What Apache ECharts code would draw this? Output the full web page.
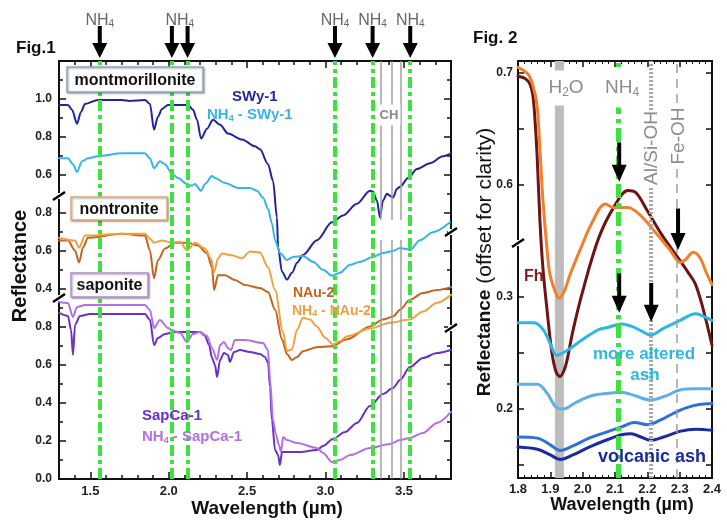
<!DOCTYPE html>
<html><head><meta charset="utf-8">
<script src="https://cdn.jsdelivr.net/npm/echarts@6/dist/echarts.min.js"></script>
<style>html,body{margin:0;padding:0;background:#fff}#c{width:727px;height:523px}</style>
</head><body><div id="c"></div>
<script>
// ---------------- Fig.1 data ----------------
const fig1XTicks = [1.5, 2.0, 2.5, 3.0, 3.5];
const montTicks = [0.6, 0.8, 1.0];
const nontTicks = [0.4, 0.6, 0.8];
const sapTicks = [0.0, 0.2, 0.4, 0.6, 0.8];
const nh4Bands = [1.56, 2.02, 2.12, 3.06, 3.30, 3.54];
const nh4LabelX = [1.56, 2.07, 3.06, 3.30, 3.54];
const chLines = [3.35, 3.42, 3.48];
const chGap = [0.258, 0.363];

const swy1 = [[1.30,0.969],[1.357,0.969],[1.383,0.943],[1.415,0.870],[1.44,0.932],[1.466,0.974],[1.549,0.995],[1.702,0.995],[1.75,0.99],[1.848,0.995],[1.88,0.974],[1.906,0.839],[1.931,0.906],[1.957,0.948],[1.995,0.969],[2.123,0.969],[2.155,0.943],[2.18,0.891],[2.206,0.792],[2.244,0.844],[2.282,0.891],[2.327,0.865],[2.378,0.818],[2.467,0.787],[2.55,0.751],[2.582,0.735],[2.633,0.657],[2.665,0.569],[2.69,0.377],[2.697,0.221],[2.722,0.091],[2.754,0.049],[2.786,0.086],[2.818,0.138],[2.856,0.179],[2.945,0.257],[3.041,0.351],[3.111,0.387],[3.20,0.449],[3.283,0.517],[3.303,0.512],[3.328,0.465],[3.347,0.377],[3.366,0.465],[3.392,0.501],[3.411,0.491],[3.43,0.481],[3.456,0.527],[3.475,0.538],[3.526,0.584],[3.583,0.631],[3.666,0.662],[3.749,0.699],[3.80,0.714]];
const nh4Swy1 = [[1.30,0.688],[1.357,0.688],[1.389,0.657],[1.415,0.616],[1.447,0.673],[1.485,0.688],[1.549,0.699],[1.702,0.714],[1.848,0.714],[1.88,0.688],[1.906,0.636],[1.944,0.673],[1.976,0.657],[2.021,0.605],[2.059,0.584],[2.116,0.553],[2.148,0.543],[2.167,0.553],[2.206,0.517],[2.231,0.553],[2.276,0.595],[2.295,0.584],[2.359,0.558],[2.442,0.532],[2.518,0.532],[2.563,0.517],[2.601,0.481],[2.633,0.423],[2.658,0.345],[2.678,0.257],[2.709,0.190],[2.754,0.153],[2.792,0.169],[2.856,0.174],[2.92,0.143],[2.984,0.101],[3.041,0.070],[3.092,0.086],[3.156,0.127],[3.22,0.143],[3.303,0.169],[3.366,0.190],[3.43,0.200],[3.475,0.216],[3.519,0.210],[3.538,0.205],[3.602,0.257],[3.685,0.299],[3.794,0.351]];
const nau2 = [[1.30,0.655],[1.357,0.655],[1.402,0.603],[1.428,0.540],[1.453,0.618],[1.485,0.670],[1.702,0.691],[1.848,0.681],[1.88,0.603],[1.906,0.457],[1.931,0.551],[1.976,0.613],[2.04,0.644],[2.123,0.644],[2.186,0.629],[2.244,0.587],[2.276,0.514],[2.289,0.395],[2.314,0.473],[2.359,0.473],[2.422,0.447],[2.486,0.421],[2.582,0.405],[2.633,0.384],[2.678,0.291],[2.722,0.135],[2.754,0.057],[2.786,0.026],[2.818,0.042],[2.856,0.073],[2.945,0.094],[3.041,0.099],[3.137,0.135],[3.283,0.203],[3.366,0.239],[3.43,0.255],[3.475,0.291],[3.538,0.343],[3.621,0.379],[3.711,0.395],[3.80,0.410]];
const nh4Nau2 = [[1.30,0.670],[1.402,0.655],[1.428,0.618],[1.466,0.681],[1.702,0.691],[1.848,0.691],[1.88,0.665],[1.906,0.644],[1.957,0.655],[2.021,0.644],[2.072,0.649],[2.116,0.603],[2.167,0.644],[2.231,0.613],[2.269,0.561],[2.289,0.488],[2.314,0.561],[2.34,0.587],[2.403,0.577],[2.467,0.561],[2.518,0.597],[2.582,0.592],[2.633,0.514],[2.678,0.395],[2.729,0.171],[2.754,0.073],[2.786,0.083],[2.818,0.187],[2.856,0.249],[2.90,0.239],[2.945,0.203],[2.996,0.145],[3.047,0.109],[3.092,0.125],[3.137,0.151],[3.283,0.192],[3.411,0.223],[3.538,0.239],[3.621,0.281],[3.711,0.327],[3.80,0.369]];
const sapca1 = [[1.30,0.874],[1.357,0.858],[1.377,0.784],[1.389,0.653],[1.402,0.811],[1.434,0.858],[1.498,0.868],[1.848,0.868],[1.88,0.837],[1.906,0.705],[1.931,0.742],[1.976,0.763],[2.04,0.774],[2.199,0.774],[2.231,0.753],[2.257,0.705],[2.276,0.637],[2.295,0.600],[2.308,0.537],[2.327,0.626],[2.352,0.663],[2.378,0.653],[2.39,0.616],[2.416,0.668],[2.454,0.679],[2.518,0.668],[2.582,0.658],[2.614,0.642],[2.633,0.611],[2.646,0.484],[2.658,0.311],[2.678,0.153],[2.697,0.126],[2.709,0.074],[2.722,0.142],[2.741,0.142],[2.837,0.142],[2.945,0.153],[2.984,0.174],[3.047,0.211],[3.124,0.247],[3.20,0.295],[3.283,0.384],[3.366,0.447],[3.43,0.479],[3.475,0.521],[3.538,0.589],[3.621,0.637],[3.711,0.663],[3.80,0.679]];
const nh4Sapca1 = [[1.30,0.932],[1.357,0.926],[1.389,0.853],[1.415,0.905],[1.466,0.916],[1.848,0.916],[1.88,0.889],[1.906,0.795],[1.944,0.837],[1.995,0.795],[2.021,0.784],[2.072,0.768],[2.116,0.721],[2.155,0.763],[2.199,0.774],[2.244,0.753],[2.276,0.689],[2.308,0.626],[2.327,0.705],[2.352,0.721],[2.378,0.689],[2.397,0.679],[2.422,0.732],[2.486,0.732],[2.601,0.716],[2.633,0.679],[2.646,0.521],[2.665,0.311],[2.684,0.232],[2.703,0.179],[2.716,0.142],[2.729,0.221],[2.754,0.205],[2.818,0.189],[2.945,0.163],[2.984,0.137],[3.041,0.089],[3.092,0.100],[3.156,0.126],[3.283,0.163],[3.411,0.184],[3.475,0.205],[3.538,0.216],[3.621,0.242],[3.711,0.295],[3.80,0.353]];

// ---------------- Fig.2 data ----------------
const fig2YLowerLabels = [0.2, 0.3];
const fig2YUpperLabels = [0.6, 0.7];
const fig2YLowerTicks = [0.15, 0.2, 0.25, 0.3];
const fig2YUpperTicks = [0.6, 0.65, 0.7];
const h2oBand = [1.914, 1.942];
const nh4Line2 = 2.113;
const alSiOH = 2.212;
const feOH = 2.295;
const arrowX = [2.113, 2.295, 2.113, 2.212];
const arrowAxis = [5, 5, 4, 4];
const arrowFrom = [0.638, 0.579, 0.321, 0.3125];
const arrowTo = [0.603, 0.542, 0.286, 0.278];

const fh = [[1.80,0.697],[1.822,0.695],[1.837,0.690],[1.846,0.680],[1.853,0.656],[1.859,0.627],[1.868,0.567],[1.877,0.526],[1.89,0.488],[1.905,0.450],[1.918,0.433],[1.93,0.429],[1.943,0.435],[1.952,0.444],[1.97,0.470],[2.00,0.505],[2.05,0.553],[2.10,0.582],[2.14,0.595],[2.165,0.593],[2.20,0.577],[2.246,0.555],[2.295,0.535],[2.326,0.522],[2.348,0.512],[2.37,0.492],[2.40,0.457]];
const orange = [[1.80,0.705],[1.831,0.699],[1.846,0.689],[1.859,0.671],[1.868,0.631],[1.877,0.587],[1.89,0.542],[1.899,0.520],[1.915,0.505],[1.927,0.499],[1.943,0.505],[1.961,0.520],[1.992,0.542],[2.03,0.567],[2.07,0.583],[2.095,0.580],[2.12,0.580],[2.14,0.580],[2.178,0.573],[2.224,0.558],[2.27,0.542],[2.302,0.531],[2.317,0.533],[2.342,0.540],[2.363,0.535],[2.382,0.522],[2.40,0.511]];
const alteredAsh = [[1.80,0.277],[1.85,0.277],[1.88,0.270],[1.90,0.258],[1.92,0.248],[1.95,0.252],[2.00,0.262],[2.05,0.271],[2.08,0.273],[2.12,0.276],[2.15,0.274],[2.18,0.270],[2.21,0.266],[2.25,0.272],[2.30,0.279],[2.35,0.285],[2.38,0.282],[2.40,0.279]];
const ash2 = [[1.80,0.222],[1.86,0.222],[1.89,0.214],[1.92,0.201],[1.94,0.200],[1.98,0.206],[2.03,0.212],[2.08,0.214],[2.12,0.215],[2.16,0.212],[2.21,0.208],[2.26,0.212],[2.30,0.217],[2.35,0.218],[2.40,0.218]];
const ash3 = [[1.80,0.175],[1.86,0.174],[1.90,0.168],[1.93,0.163],[1.97,0.167],[2.02,0.174],[2.08,0.180],[2.12,0.184],[2.16,0.188],[2.20,0.186],[2.24,0.190],[2.28,0.196],[2.32,0.201],[2.36,0.204],[2.40,0.205]];
const volcanicAsh = [[1.80,0.166],[1.86,0.164],[1.90,0.159],[1.93,0.155],[1.97,0.159],[2.02,0.166],[2.08,0.173],[2.12,0.177],[2.15,0.178],[2.18,0.175],[2.21,0.172],[2.25,0.175],[2.30,0.180],[2.35,0.182],[2.40,0.181]];

// ---------------- chart ----------------
const FONT = '"Liberation Sans", Arial, sans-serif';
const chart = echarts.init(document.getElementById('c'));
const tickStyle = {color:'#111', width:1.5};
const fmt1 = v => (+v).toFixed(1);
const fig1XMinor = [];
for (let k = 13; k <= 38; k++) { if (k % 5 !== 0) fig1XMinor.push(k / 10); }
const labelStyle = {fontSize:12, fontWeight:'bold', color:'#222', fontFamily:FONT, formatter:fmt1};

function ax(grid, pos, min, max, extra) {
  return Object.assign({gridIndex:grid, type:'value', position:pos, min:min, max:max,
    axisLine:{show:false, onZero:false}, splitLine:{show:false}}, extra);
}

const xAxes = [
  ax(0,'bottom',1.3,3.8,{axisTick:{inside:true,length:7,lineStyle:tickStyle,customValues:fig1XTicks},
      axisLabel:Object.assign({}, labelStyle, {fontSize:13, margin:6, customValues:fig1XTicks})}),
  ax(0,'bottom',1.3,3.8,{axisTick:{inside:true,length:4,lineStyle:tickStyle,customValues:fig1XMinor},axisLabel:{show:false}}),
  ax(0,'top',1.3,3.8,{axisTick:{inside:true,length:7,lineStyle:tickStyle,customValues:fig1XTicks},axisLabel:{show:false}}),
  ax(0,'top',1.3,3.8,{axisTick:{inside:true,length:4,lineStyle:tickStyle,customValues:fig1XMinor},axisLabel:{show:false}}),
  ax(1,'bottom',1.8,2.4,{interval:0.1,axisTick:{inside:true,length:6,lineStyle:tickStyle},
      minorTick:{show:true,splitNumber:5,length:3,lineStyle:{color:'#111',width:1}},
      axisLabel:Object.assign({}, labelStyle, {fontSize:13, margin:5})}),
  ax(1,'top',1.8,2.4,{interval:0.1,axisTick:{inside:true,length:6,lineStyle:tickStyle},
      minorTick:{show:true,splitNumber:5,length:3,lineStyle:{color:'#111',width:1}},axisLabel:{show:false}})
];
const yAxes = [
  ax(0,'left',-1.0,1.2,{interval:0.2,axisTick:{inside:true,length:7,lineStyle:tickStyle},
      minorTick:{show:true,splitNumber:2,length:4,lineStyle:tickStyle},
      axisLabel:Object.assign({}, labelStyle, {margin:7, customValues:montTicks})}),
  ax(0,'left',-0.6,1.6,{axisTick:{show:false},axisLabel:Object.assign({}, labelStyle, {margin:7, customValues:nontTicks})}),
  ax(0,'left',0,2.2,{axisTick:{show:false},axisLabel:Object.assign({}, labelStyle, {margin:7, customValues:sapTicks})}),
  ax(0,'right',-1.0,1.2,{interval:0.2,axisTick:{inside:true,length:7,lineStyle:tickStyle},
      minorTick:{show:true,splitNumber:2,length:4,lineStyle:tickStyle},axisLabel:{show:false}}),
  ax(1,'left',0.1384,0.5107,{axisTick:{inside:true,length:6,lineStyle:tickStyle,customValues:fig2YLowerTicks},
      axisLabel:Object.assign({}, labelStyle, {margin:5, customValues:fig2YLowerLabels})}),
  ax(1,'left',0.3384,0.7107,{axisTick:{inside:true,length:6,lineStyle:tickStyle,customValues:fig2YUpperTicks},
      axisLabel:Object.assign({}, labelStyle, {margin:5, customValues:fig2YUpperLabels})}),
  ax(1,'right',0.1384,0.5107,{axisTick:{inside:true,length:6,lineStyle:tickStyle,customValues:fig2YLowerTicks},axisLabel:{show:false}}),
  ax(1,'right',0.3384,0.7107,{axisTick:{inside:true,length:6,lineStyle:tickStyle,customValues:fig2YUpperTicks},axisLabel:{show:false}})
];

function curve(name, data, xi, yi, color, width, smooth, mono) {
  const s = {name:name, type:'line', xAxisIndex:xi, yAxisIndex:yi, data:data, symbol:'none', showSymbol:false,
    smooth:smooth, z:3, silent:true, lineStyle:{color:color, width:width, join:'round', cap:'round'}};
  if (mono) s.smoothMonotone = 'x';
  return s;
}

const chMarks = [];
chLines.forEach(v => {
  chMarks.push([{coord:[v,1.199]},{coord:[v,chGap[1]]}]);
  chMarks.push([{coord:[v,chGap[0]]},{coord:[v,-0.999]}]);
});

const series = [
  {type:'line', xAxisIndex:0, yAxisIndex:0, data:[], z:1, silent:true,
   markLine:{silent:true, symbol:['none','none'], label:{show:false}, animation:false,
     lineStyle:{color:'#3ee23e', width:4, type:[11,4,4,4]}, data:nh4Bands.map(v=>({xAxis:v}))}},
  {type:'line', xAxisIndex:0, yAxisIndex:0, data:[], z:1, silent:true,
   markLine:{silent:true, symbol:['none','none'], label:{show:false}, animation:false,
     lineStyle:{color:'#a0a0a0', width:1.5, type:'solid'}, data:chMarks}},
  curve('SWy-1', swy1, 0, 0, '#2222a0', 2, 0.3, true),
  curve('NH4 - SWy-1', nh4Swy1, 0, 0, '#36b4e6', 2, 0.3, true),
  curve('NAu-2', nau2, 0, 1, '#c4641e', 2, 0.3, true),
  curve('NH4 - NAu-2', nh4Nau2, 0, 1, '#f0a040', 2, 0.3, true),
  curve('SapCa-1', sapca1, 0, 2, '#6a30c8', 2, 0.3, true),
  curve('NH4 - SapCa-1', nh4Sapca1, 0, 2, '#b46ee6', 2, 0.3, true),
  {type:'line', xAxisIndex:4, yAxisIndex:4, data:[], z:1, silent:true,
   markArea:{silent:true, itemStyle:{color:'#bdbdbd'}, label:{show:false}, data:[[{xAxis:h2oBand[0]},{xAxis:h2oBand[1]}]]},
   markLine:{silent:true, symbol:['none','none'], label:{show:false}, animation:false,
     data:[
       {xAxis:nh4Line2, lineStyle:{color:'#3ee23e', width:5, type:[14,5,4,5]}},
       {xAxis:alSiOH, lineStyle:{color:'#a8a8a8', width:4, type:[2,2]}},
       {xAxis:feOH, lineStyle:{color:'#a0a0a0', width:1.5, type:[9,6]}}
     ]}},
  curve('Fh', fh, 4, 5, '#6e1414', 3, 0.35, false),
  curve('Fh orange', orange, 4, 5, '#f0802e', 3, 0.35, false),
  curve('more altered ash', alteredAsh, 4, 4, '#2cb6e6', 3, 0.35, false),
  curve('ash 2', ash2, 4, 4, '#62aee8', 3, 0.35, false),
  curve('ash 3', ash3, 4, 4, '#3070d8', 3, 0.35, false),
  curve('volcanic ash', volcanicAsh, 4, 4, '#1c2aa0', 3, 0.35, false)
];

chart.setOption({
  animation:false,
  backgroundColor:'#fff',
  grid:[
    {left:59, top:61, width:392, height:418, show:true, borderColor:'#111', borderWidth:2, backgroundColor:'rgba(0,0,0,0)', outerBoundsMode:'none'},
    {left:518, top:61, width:194, height:417, show:true, borderColor:'#111', borderWidth:2, backgroundColor:'rgba(0,0,0,0)', outerBoundsMode:'none'}
  ],
  xAxis:xAxes, yAxis:yAxes, series:series
});

// ---------------- annotations ----------------
const G = [];
function txt(text, x, y, opt, rot) {
  const el = {type:'text', z:100, silent:true, style:Object.assign({text:text, x:0, y:0, fill:'#111',
    font:'bold 15px ' + FONT, align:'left', verticalAlign:'middle'}, opt || {})};
  el.x = x; el.y = y;
  if (rot) el.rotation = rot;
  G.push(el);
}
function arrow(x, yTop, yTip, hw, hh) {
  G.push({type:'rect', z:100, silent:true, shape:{x:x-2, y:yTop, width:4, height:yTip-yTop-hh+1}, style:{fill:'#000'}});
  G.push({type:'polygon', z:100, silent:true, shape:{points:[[x-hw/2, yTip-hh],[x+hw/2, yTip-hh],[x, yTip]]}, style:{fill:'#000'}});
}
function brk(x, y) {
  G.push({type:'rect', z:101, silent:true, shape:{x:x-3, y:y-3, width:6, height:6}, style:{fill:'#fff'}});
  G.push({type:'line', z:102, silent:true, shape:{x1:x-6, y1:y+4, x2:x+6, y2:y-4}, style:{stroke:'#000', lineWidth:2.5}});
}
function box(x, y, w, h, stroke, label) {
  G.push({type:'rect', z:99, silent:true, shape:{x:x, y:y, width:w, height:h},
    style:{fill:'#fff', stroke:stroke, lineWidth:1.5, shadowBlur:2, shadowOffsetX:1, shadowOffsetY:1, shadowColor:'rgba(0,0,0,0.35)'}});
  txt(label, x + w/2, y + h/2 + 1, {font:'bold 16px ' + FONT, align:'center'});
}
const subRich = (color, size, weight) => ({
  a:{fill:color, fontSize:size, fontFamily:FONT, fontWeight:weight},
  s:{fill:color, fontSize:Math.round(size*0.62), fontFamily:FONT, fontWeight:weight, padding:[Math.round(size*0.45),0,0,0]}
});
function richTxt(text, x, y, rich, opt, rot) {
  txt(text, x, y, Object.assign({rich:rich}, opt || {}), rot);
}

// Fig.1 titles
txt('Fig.1', 16, 48, {font:'bold 17px ' + FONT});
txt('Reflectance', 20, 266, {font:'bold 20px ' + FONT, align:'center'}, Math.PI/2);
txt('Wavelength (µm)', 267, 509, {font:'bold 19px ' + FONT, align:'center'});

// NH4 arrows on top of Fig.1
nh4Bands.forEach(v => { const px = chart.convertToPixel({xAxisIndex:0}, v); arrow(px, 26, 58, 15, 15); });
nh4LabelX.forEach(v => {
  const px = chart.convertToPixel({xAxisIndex:0}, v);
  richTxt('{a|NH}{s|4}', px, 21, subRich('#666666', 16, 'normal'), {align:'center'});
});

// boxes
box(67, 67, 136, 25, '#8ea6c8', 'montmorillonite');
box(71, 197, 96, 23, '#e6a67a', 'nontronite');
box(71, 273, 77, 24, '#b88ad8', 'saponite');

// curve labels
txt('SWy-1', 232, 97, {fill:'#2626a0', font:'bold 15px ' + FONT});
richTxt('{a|NH}{s|4}{a| - SWy-1}', 207, 115, subRich('#36b4e6', 15, 'bold'));
txt('NAu-2', 293, 293, {fill:'#c4641e', font:'bold 14px ' + FONT});
richTxt('{a|NH}{s|4}{a| - NAu-2}', 292, 311, subRich('#f0a040', 14, 'bold'));
txt('SapCa-1', 142, 416, {fill:'#6a30c8', font:'bold 15px ' + FONT});
richTxt('{a|NH}{s|4}{a| - SapCa-1}', 142, 437, subRich('#b46ee6', 15, 'bold'));
txt('CH', 389, 115, {fill:'#888', font:'bold 13px ' + FONT, align:'center', backgroundColor:'#fff', padding:[4,2]});

// axis breaks Fig.1
brk(59, 196); brk(59, 298); brk(451, 232); brk(451, 328);

// Fig.2 texts
txt('Fig. 2', 473, 38, {font:'bold 17px ' + FONT});
richTxt('{b|Reflectance}{n| (offset for clarity)}', 485, 262,
  {b:{fill:'#111', fontSize:19, fontWeight:'bold', fontFamily:FONT}, n:{fill:'#111', fontSize:21, fontFamily:FONT}},
  {align:'center'}, Math.PI/2);
txt('Wavelength (µm)', 622, 505, {font:'bold 18px ' + FONT, align:'center'});

richTxt('{a|H}{s|2}{a|O}', 566, 88, subRich('#8c8c8c', 19, 'normal'), {align:'center', backgroundColor:'#fff', padding:[7,2]});
richTxt('{a|NH}{s|4}', 622, 88, subRich('#8c8c8c', 19, 'normal'), {align:'center', backgroundColor:'#fff', padding:[9,2]});
txt('Al/Si-OH', 652, 148, {align:'center', fill:'#8c8c8c', font:'19px ' + FONT, backgroundColor:'#fff', padding:[3,1]}, Math.PI/2);
txt('Fe-OH', 679, 136, {align:'center', fill:'#8c8c8c', font:'19px ' + FONT, backgroundColor:'#fff', padding:[3,1]}, Math.PI/2);

txt('Fh', 524, 277, {fill:'#8b1a1a', font:'bold 16px ' + FONT});
txt('more altered', 644, 354, {fill:'#2cb6e6', font:'bold 17px ' + FONT, align:'center'});
txt('ash', 645, 375, {fill:'#2cb6e6', font:'bold 17px ' + FONT, align:'center'});
txt('volcanic ash', 652, 457, {fill:'#1c2aa0', font:'bold 18px ' + FONT, align:'center'});

// Fig.2 arrows from data coordinates
arrowX.forEach((xv, i) => {
  const p0 = chart.convertToPixel({xAxisIndex:4, yAxisIndex:arrowAxis[i]}, [xv, arrowFrom[i]]);
  const p1 = chart.convertToPixel({xAxisIndex:4, yAxisIndex:arrowAxis[i]}, [xv, arrowTo[i]]);
  arrow(p0[0], p0[1], p1[1], 15, 17);
});
brk(518, 243);

chart.setOption({graphic:{elements:G}});
</script></body></html>
